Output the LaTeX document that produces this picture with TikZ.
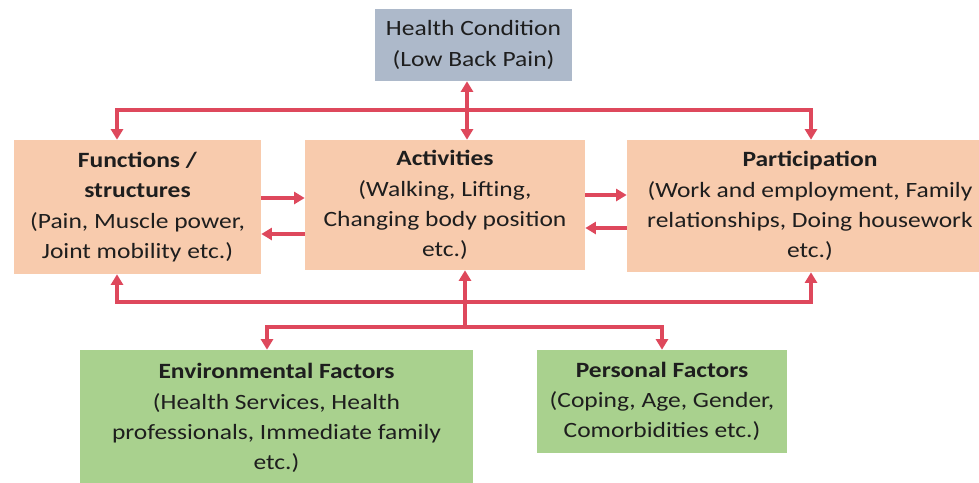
\documentclass[tikz,border=0pt]{standalone}
\usepackage{fontspec}
\setmainfont[FakeStretch=1.17]{Carlito}
\usepackage{tikz}
\usetikzlibrary{arrows.meta,positioning}
\definecolor{condgray}{RGB}{173,185,202}
\definecolor{actpeach}{RGB}{248,203,173}
\definecolor{factgreen}{RGB}{169,209,142}
\definecolor{linkred}{RGB}{222,72,92}
\definecolor{textdark}{RGB}{30,30,30}

\tikzset{
  box/.style={rectangle, inner sep=0pt, align=center, text=textdark,
    font=\fontsize{15.5}{21.5}\selectfont},
  link/.style={line width=2.5pt, linkred,
    arrows={-Triangle[length=7.5pt,width=8.5pt]}},
  dlink/.style={link, arrows={Triangle[length=7.5pt,width=8.5pt]-Triangle[length=7.5pt,width=8.5pt]}}
}

\begin{document}
\begin{tikzpicture}[x=0.025cm, y=-0.025cm]
  \useasboundingbox (0,0) rectangle (979,482);
  % boxes
  \node[box, fill=condgray, minimum width=4.925cm, minimum height=1.8cm]
    (hc) at (473.5,45) {Health Condition\\(Low Back Pain)};
  \node[box, fill=actpeach, minimum width=6.175cm, minimum height=3.35cm]
    (func) at (137.5,207) {\textbf{Functions /}\\\textbf{structures}\\(Pain, Muscle power,\\Joint mobility etc.)};
  \node[box, fill=actpeach, minimum width=7cm, minimum height=3.25cm]
    (act) at (445,205) {\textbf{Activities}\\(Walking, Lifting,\\Changing body position\\etc.)};
  \node[box, fill=actpeach, minimum width=9.15cm, minimum height=3.3cm]
    (part) at (810,206) {\textbf{Participation}\\(Work and employment, Family\\relationships, Doing housework\\etc.)};
  \node[box, fill=factgreen, minimum width=9.825cm, minimum height=3.4cm]
    (env) at (276.5,418) {\textbf{Environmental Factors}\\(Health Services, Health\\professionals, Immediate family\\etc.)};
  \node[box, fill=factgreen, minimum width=6.25cm, minimum height=2.575cm]
    (pers) at (662,401.5) {\textbf{Personal Factors}\\(Coping, Age, Gender,\\Comorbidities etc.)};

  % junctions and columns
  \coordinate (jtop) at (467,110);
  \coordinate (jbot) at (465,302);
  \coordinate (jfac) at (465,327);
  \coordinate (fcol) at (117,0);
  \coordinate (pcol) at (811,0);
  \coordinate (ecol) at (267,0);
  \coordinate (qcol) at (662,0);
  \coordinate (fa1) at (0,198);
  \coordinate (fa2) at (0,234);
  \coordinate (ap1) at (0,195);
  \coordinate (ap2) at (0,228);

  % top links
  \draw[dlink] (hc.south -| jtop) -- (act.north -| jtop);
  \draw[link] (jtop) -| (func.north -| fcol);
  \draw[link] (jtop) -| (part.north -| pcol);

  % side links
  \draw[link] (func.east |- fa1) -- (act.west |- fa1);
  \draw[link] (act.west |- fa2) -- (func.east |- fa2);
  \draw[link] (act.east |- ap1) -- (part.west |- ap1);
  \draw[link] (part.west |- ap2) -- (act.east |- ap2);

  % bottom links
  \draw[link] (jbot) -| (func.south -| fcol);
  \draw[link] (jbot) -| (part.south -| pcol);
  \draw[link] (jfac) -- (act.south -| jfac);
  \draw[link] (jfac) -| (env.north -| ecol);
  \draw[link] (jfac) -| (pers.north -| qcol);
\end{tikzpicture}
\end{document}
